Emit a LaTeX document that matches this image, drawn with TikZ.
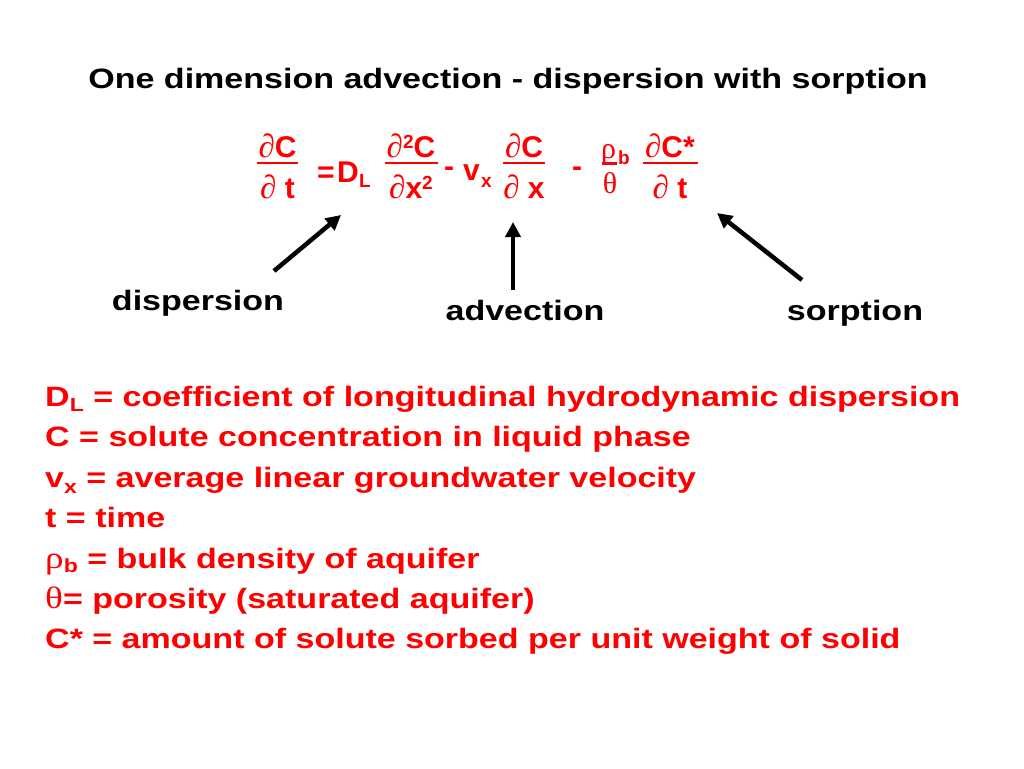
\documentclass[tikz,border=0pt]{standalone}
\usepackage{fontspec}
\setmainfont{Liberation Sans}[FakeStretch=1.215]
\newfontfamily\gk{Liberation Serif}[FakeStretch=1.2]
\newfontfamily\eqsans{Liberation Sans}
\newfontfamily\eqgk{Liberation Serif}
\usetikzlibrary{arrows.meta}
\definecolor{eqred}{RGB}{255,0,0}
\tikzset{
  big/.style={inner sep=0pt, font=\fontsize{28}{28}\selectfont\bfseries},
  eqt/.style={inner sep=0pt, font=\fontsize{30}{30}\selectfont\eqsans\bfseries},
  eqsub/.style={inner sep=0pt, font=\fontsize{19}{19}\selectfont\eqsans\bfseries},
  eqgr/.style={inner sep=0pt, font=\fontsize{30}{30}\selectfont\eqgk},
  redtxt/.style={big, text=eqred, anchor=base west},
  fbar/.style={draw=eqred, line width=2.4pt},
  arr/.style={line width=4.5pt, -{Triangle[length=15pt,width=15pt]}, shorten >=0pt},
}
\newcommand{\pd}{{\eqgk\mdseries\fontsize{33}{33}\selectfont\char"2202}}
\newcommand{\suptwo}{\raisebox{9pt}{\fontsize{19}{19}\selectfont 2}}
\begin{document}
\begin{tikzpicture}[x=1pt,y=-1pt]
\useasboundingbox (0,0) rectangle (1024,768);
\fill[white] (0,0) rectangle (1024,768);
% title
\node[big, anchor=base] (title) at (508,88) {One dimension advection - dispersion with sorption};
% equation
\begin{scope}[text=eqred]
\node[eqt, anchor=base] (n1) at (277.5,157) {\pd C};
\node[eqt, anchor=base] (d1) at (277.5,198) {\pd\ t};
\draw[fbar] (257,163) -- (298,163);
\node[eqt, anchor=base west] (eq) at (317,182) {=};
\node[eqt, anchor=base west] (D) at (337,182) {D};
\node[eqsub, anchor=base west] (L) at (359,187) {L};
\node[eqt, anchor=base] (n2) at (411,157) {\pd\suptwo C};
\node[eqt, anchor=base] (d2) at (411,198) {\pd x\suptwo};
\draw[fbar] (385,163) -- (438,163);
\node[eqt, anchor=base west] (m1) at (444,176) {-};
\node[eqt, anchor=base west] (v) at (463,180) {v};
\node[eqsub, anchor=base west] (vx) at (481,187) {x};
\node[eqt, anchor=base] (n3) at (524,157) {\pd C};
\node[eqt, anchor=base] (d3) at (524,198) {\pd\ x};
\draw[fbar] (503,163) -- (545,163);
\node[eqt, anchor=base west] (m2) at (572,176) {-};
\node[eqgr, anchor=base west] (rho) at (601,158) {ρ};
\node[eqsub, anchor=base west] (b) at (618,164) {b};
\node[eqgr, anchor=base] (th) at (610,193) {θ};
\draw[fbar] (602,163.5) -- (617,163.5);
\node[eqt, anchor=base] (n4) at (670,157) {\pd C*};
\node[eqt, anchor=base] (d4) at (670,198) {\pd\ t};
\draw[fbar] (643,163) -- (698,163);
\end{scope}
% labels and arrows
\node[big, anchor=base] (ldisp) at (198,310) {dispersion};
\node[big, anchor=base] (ladv) at (525,320) {advection};
\node[big, anchor=base] (lsorp) at (855,320) {sorption};
\coordinate (t1) at (274,271); \coordinate (h1) at (341,215);
\coordinate (t2) at (513,290); \coordinate (h2) at (513,222);
\coordinate (t3) at (802,280); \coordinate (h3) at (717,213);
\draw[arr] (t1) -- (h1);
\draw[arr] (t2) -- (h2);
\draw[arr] (t3) -- (h3);
% definitions
\node[redtxt] (l1) at (45,406) {D\raisebox{-5pt}{\fontsize{19}{19}\selectfont L} = coefficient of longitudinal hydrodynamic dispersion};
\node[redtxt] (l2) at (45,446.5) {C = solute concentration in liquid phase};
\node[redtxt] (l3) at (45,487) {v\raisebox{-6pt}{\fontsize{19}{19}\selectfont x} = average linear groundwater velocity};
\node[redtxt] (l4) at (45,527.5) {t = time};
\node[redtxt] (l5) at (45,568) {{\gk\mdseries\fontsize{31}{31}\selectfont ρ}\raisebox{-4pt}{\fontsize{19}{19}\selectfont b} = bulk density of aquifer};
\node[redtxt] (l6) at (45,608) {{\gk\mdseries\fontsize{31}{31}\selectfont θ}= porosity (saturated aquifer)};
\node[redtxt] (l7) at (45,648) {C* = amount of solute sorbed per unit weight of solid};
\end{tikzpicture}
\end{document}
